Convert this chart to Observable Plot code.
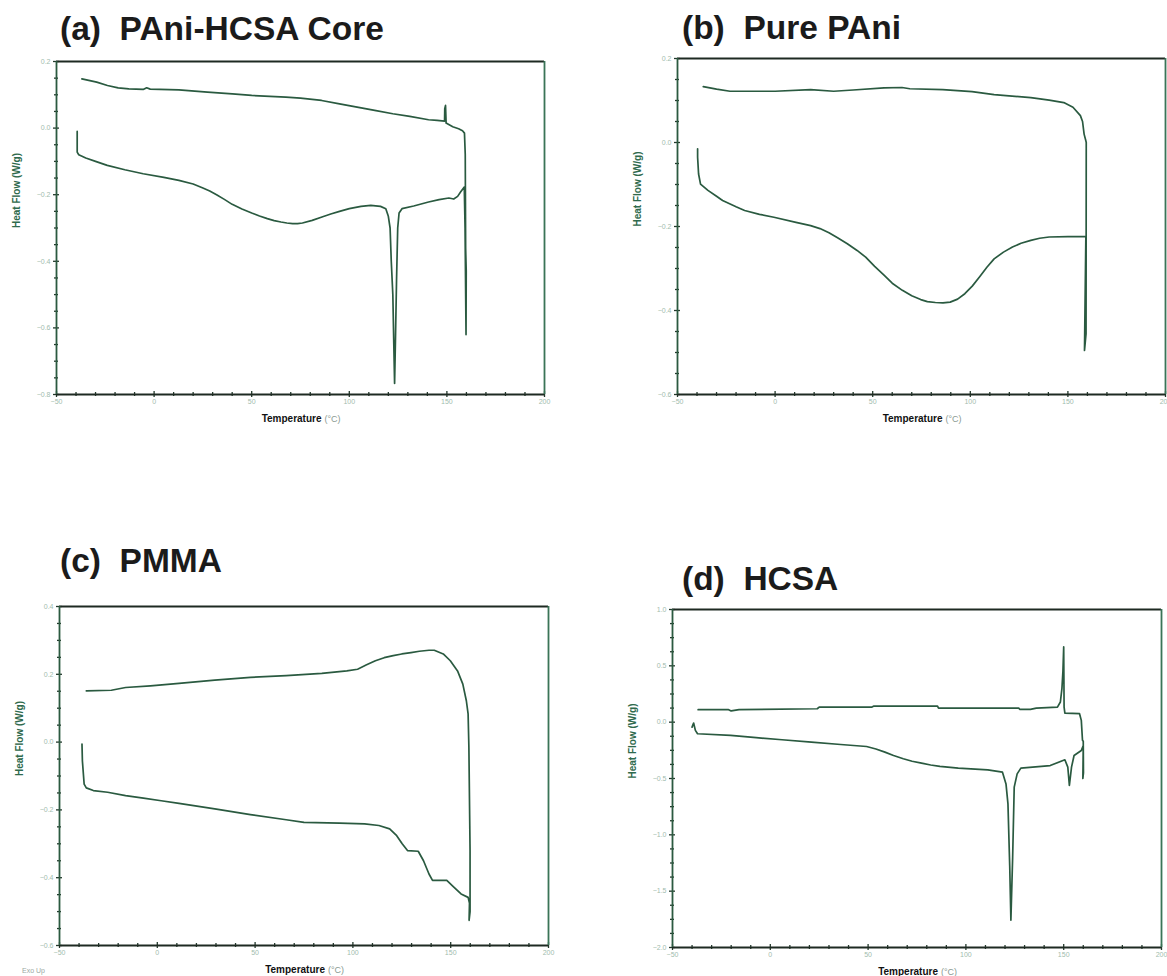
<!DOCTYPE html>
<html><head><meta charset="utf-8">
<script src="https://cdn.jsdelivr.net/npm/d3@7"></script>
<script src="https://cdn.jsdelivr.net/npm/@observablehq/plot@0.6"></script>
<style>
body{margin:0;background:#fff;}
#root{position:relative;width:1167px;height:976px;overflow:hidden;background:#fff;font-family:"Liberation Sans",Arial,sans-serif;}
.title{position:absolute;font-weight:bold;font-size:33.5px;line-height:33px;color:#1b1b1b;white-space:pre;}
.exo{position:absolute;font-size:7px;color:#9aa8a2;}
</style></head><body><div id="root"></div>
<script>
// ---------- tick labels ----------
const xTicks = [-50, 0, 50, 100, 150, 200];
const xMinorTicks = [-40,-30,-20,-10,10,20,30,40,60,70,80,90,110,120,130,140,160,170,180,190];

const aYTicks = [0.2, 0, -0.2, -0.4, -0.6, -0.8];
const aYMinor = [0.15,0.1,0.05,-0.05,-0.1,-0.15,-0.25,-0.3,-0.35,-0.45,-0.5,-0.55,-0.65,-0.7,-0.75];
const bYTicks = [0.2, 0, -0.2, -0.4, -0.6];
const bYMinor = [0.15,0.1,0.05,-0.05,-0.1,-0.15,-0.25,-0.3,-0.35,-0.45,-0.5,-0.55];
const cYTicks = [0.4, 0.2, 0, -0.2, -0.4, -0.6];
const cYMinor = [0.35,0.3,0.25,0.15,0.1,0.05,-0.05,-0.1,-0.15,-0.25,-0.3,-0.35,-0.45,-0.5,-0.55];
const dYTicks = [1, 0.5, 0, -0.5, -1, -1.5, -2];
const dYMinor = [0.875,0.75,0.625,0.375,0.25,0.125,-0.125,-0.25,-0.375,-0.625,-0.75,-0.875,-1.125,-1.25,-1.375,-1.625,-1.75,-1.875];

// ---------- series (temperature °C, heat flow W/g), in recording order ----------
// (a) PAni-HCSA Core
const aTemp = [-39.4,-39.4,-38.6,-35,-30,-24,-15,-5.6,5,12.7,20,25,28.5,32,36,40,45,50,54,58,61.5,65,68,71,73.5,76,81,86,90.5,95,100,106,111,116,118.7,120.0,120.9,121.5,122.3,122.8,123.2,123.6,124.2,124.8,125.5,127,133,140.6,146,151,153.5,155.5,157,158.9,159.3,159.8,159.9,159.6,159.4,159.0,158,156,153,150.5,149.6,149.3,148.9,148.8,145,140.6,131,122.3,113,104,95,85.8,75,67.5,50,40.1,27.3,12.7,-2,-3.8,-5.6,-12.9,-18.4,-23.9,-29.4,-37];
const aFlow = [-0.010,-0.072,-0.080,-0.090,-0.100,-0.112,-0.125,-0.137,-0.148,-0.157,-0.168,-0.180,-0.189,-0.200,-0.214,-0.229,-0.243,-0.255,-0.264,-0.272,-0.278,-0.282,-0.285,-0.287,-0.287,-0.285,-0.277,-0.267,-0.258,-0.250,-0.242,-0.235,-0.232,-0.235,-0.242,-0.265,-0.300,-0.400,-0.500,-0.650,-0.767,-0.650,-0.457,-0.300,-0.255,-0.242,-0.234,-0.222,-0.215,-0.210,-0.213,-0.205,-0.192,-0.177,-0.300,-0.620,-0.430,-0.360,-0.080,-0.015,-0.008,-0.002,0.004,0.012,0.015,0.068,0.058,0.021,0.023,0.025,0.035,0.043,0.053,0.063,0.073,0.083,0.090,0.093,0.098,0.103,0.108,0.115,0.117,0.121,0.116,0.118,0.121,0.128,0.138,0.148];

// (b) Pure PAni
const bTemp = [-39.7,-39.7,-39.2,-38.2,-34.4,-30,-26.9,-20,-15.6,-8,-0.6,10.7,18.2,23,27.6,32,37,42,46.4,51,55.8,60,65.2,70,74.6,78,82.1,86,89.7,93.5,97.2,101,104.7,108.5,112.2,117,121.6,126,131,135.5,140.4,150,159.2,158.5,159.3,159.4,159.2,158.3,157.5,156.4,152.6,147.9,140.4,131,112.2,100.9,85.9,69,65,55.8,40,30,18.2,0,-23.1,-30,-36.8];
const bFlow = [-0.015,-0.035,-0.075,-0.099,-0.114,-0.128,-0.138,-0.153,-0.162,-0.171,-0.178,-0.190,-0.198,-0.205,-0.215,-0.227,-0.241,-0.257,-0.273,-0.295,-0.316,-0.335,-0.352,-0.365,-0.374,-0.379,-0.381,-0.382,-0.380,-0.373,-0.360,-0.342,-0.320,-0.297,-0.277,-0.261,-0.249,-0.240,-0.233,-0.228,-0.225,-0.224,-0.224,-0.495,-0.455,0.000,0.004,0.020,0.050,0.064,0.084,0.095,0.101,0.107,0.114,0.121,0.126,0.128,0.131,0.130,0.125,0.122,0.126,0.122,0.122,0.127,0.133];

// (c) PMMA
const cTemp = [-38.5,-38.3,-37.4,-36.3,-32.7,-25.4,-16.2,-7.1,2,11.1,29.4,47.6,65.9,75,93.2,106,113.3,118.8,122.4,125.2,127.9,133.4,136.1,138.9,140.7,148,151.6,155.3,158.9,159.6,159.4,159.9,159.9,159.3,158.9,158,156.2,153.5,149.8,146.2,141.6,138.9,134,129.7,125,120.6,116,111.5,107,102.4,96.9,84.1,65.9,47.6,29.4,11.1,-3.5,-16.2,-23.5,-36.3];
const cFlow = [-0.006,-0.055,-0.124,-0.135,-0.143,-0.148,-0.158,-0.165,-0.173,-0.181,-0.197,-0.214,-0.229,-0.237,-0.239,-0.241,-0.246,-0.256,-0.276,-0.300,-0.320,-0.322,-0.350,-0.389,-0.408,-0.408,-0.428,-0.448,-0.458,-0.475,-0.526,-0.500,-0.320,-0.016,0.083,0.122,0.171,0.210,0.240,0.260,0.271,0.271,0.268,0.264,0.260,0.255,0.249,0.240,0.228,0.215,0.210,0.203,0.196,0.191,0.183,0.173,0.166,0.161,0.153,0.151];

// (d) HCSA
const dTemp = [-40,-39.2,-38.3,-37.2,-20.3,-7.2,6,21,36,49.2,54,58.6,63,68,72.5,77.3,82,86.7,96.1,111.2,118.7,120.5,121.5,122.4,123,123.9,124.7,126.2,128.1,143.1,150.6,152.1,152.9,154,155.3,159,160,159.8,160.1,160,159.6,159,158.1,150.6,150.2,150.0,149.6,149.1,148.3,146.8,136,133,127.5,127,86,85.5,53,52,25,24,-16,-20,-21.3,-36.9];
const dFlow = [-0.044,-0.008,-0.073,-0.103,-0.118,-0.138,-0.156,-0.177,-0.198,-0.216,-0.238,-0.266,-0.296,-0.325,-0.347,-0.364,-0.380,-0.393,-0.408,-0.423,-0.444,-0.548,-0.725,-1.274,-1.757,-1.200,-0.577,-0.459,-0.408,-0.385,-0.334,-0.399,-0.562,-0.399,-0.296,-0.251,-0.207,-0.500,-0.450,-0.170,-0.160,0.016,0.075,0.081,0.134,0.668,0.450,0.300,0.179,0.134,0.125,0.114,0.114,0.125,0.125,0.143,0.143,0.134,0.134,0.119,0.111,0.100,0.111,0.111];

// ---------- panels ----------
const panels = [
  {title:"(a)  PAni-HCSA Core", L:56, R:544, T:61, B:394, yDomain:[-0.8,0.2], yTicks:aYTicks, yMinor:aYMinor, temp:aTemp, flow:aFlow, tx:60, ty:12},
  {title:"(b)  Pure PAni", L:677, R:1165, T:58, B:394, yDomain:[-0.6,0.2], yTicks:bYTicks, yMinor:bYMinor, temp:bTemp, flow:bFlow, tx:682, ty:11},
  {title:"(c)  PMMA", L:59, R:548, T:606, B:945, yDomain:[-0.6,0.4], yTicks:cYTicks, yMinor:cYMinor, temp:cTemp, flow:cFlow, tx:60, ty:544},
  {title:"(d)  HCSA", L:672, R:1161, T:609, B:947, yDomain:[-2,1], yTicks:dYTicks, yMinor:dYMinor, temp:dTemp, flow:dFlow, tx:682, ty:562}
];

const root = document.getElementById("root");
const lineColor = "#2a5a40";
const frameColor = "#23392c";
const tickLabelColor = "#9fbcae";
const ml = 50, mr = 12, mt = 12, mb = 40;

for (const p of panels) {
  const data = p.temp.map((t, i) => ({T: t, V: p.flow[i]}));
  const svg = Plot.plot({
    width: p.R - p.L + ml + mr,
    height: p.B - p.T + mt + mb,
    marginLeft: ml, marginRight: mr, marginTop: mt, marginBottom: mb,
    style: {fontFamily: "'Liberation Sans', Arial, sans-serif", background: "transparent", overflow: "visible"},
    x: {domain: [-50, 200], label: null},
    y: {domain: p.yDomain, label: null},
    marks: [
      // tick labels
      Plot.axisX(xTicks, {tickSize: 0, tickPadding: 5, fontSize: 7, fill: tickLabelColor, label: null, tickFormat: d3.format("d")}),
      Plot.axisY(p.yTicks, {tickSize: 0, tickPadding: 6, fontSize: 7, fill: tickLabelColor, label: null, tickFormat: d3.format(".1f")}),
      // tick marks crossing axes
      Plot.axisX(xTicks, {tickSize: 6, dy: -3, fill: "none", stroke: frameColor, strokeWidth: 1.3, label: null}),
      Plot.axisX(xMinorTicks, {tickSize: 4, dy: -2, fill: "none", stroke: frameColor, strokeWidth: 1.3, label: null}),
      Plot.axisY(p.yTicks, {tickSize: 6, dx: 3, fill: "none", stroke: frameColor, strokeWidth: 1.3, label: null}),
      Plot.axisY(p.yMinor, {tickSize: 4, dx: 2, fill: "none", stroke: frameColor, strokeWidth: 1.3, label: null}),
      // frame
      Plot.ruleY([p.yDomain[1], p.yDomain[0]], {stroke: "#1e2a22", strokeWidth: 1.8}),
      Plot.ruleX([-50], {stroke: "#2b5a40", strokeWidth: 1.8}),
      Plot.ruleX([200], {stroke: "#3a7457", strokeWidth: 1.8}),
      // curve
      Plot.line(data, {x: "T", y: "V", stroke: lineColor, strokeWidth: 1.7}),
      // axis titles
      Plot.text(["Heat Flow (W/g)"], {frameAnchor: "left", dx: -40, rotate: -90, fontWeight: "bold", fontSize: 10, fill: "#2f6a4d"}),
      Plot.text(["Temperature"], {frameAnchor: "bottom", textAnchor: "end", dx: 21, dy: 27, fontWeight: "bold", fontSize: 10, fill: "#111"}),
      Plot.text(["(°C)"], {frameAnchor: "bottom", textAnchor: "start", dx: 24, dy: 27, fontSize: 9, fill: "#8a9a92"})
    ]
  });
  svg.style.position = "absolute";
  svg.style.left = (p.L - ml) + "px";
  svg.style.top = (p.T - mt) + "px";
  svg.style.maxWidth = "none";
  root.appendChild(svg);

  const t = document.createElement("div");
  t.className = "title";
  t.textContent = p.title;
  t.style.left = p.tx + "px";
  t.style.top = p.ty + "px";
  root.appendChild(t);
}

const exo = document.createElement("div");
exo.className = "exo";
exo.textContent = "Exo Up";
exo.style.left = "22px";
exo.style.top = "967px";
root.appendChild(exo);
</script>
</body></html>
